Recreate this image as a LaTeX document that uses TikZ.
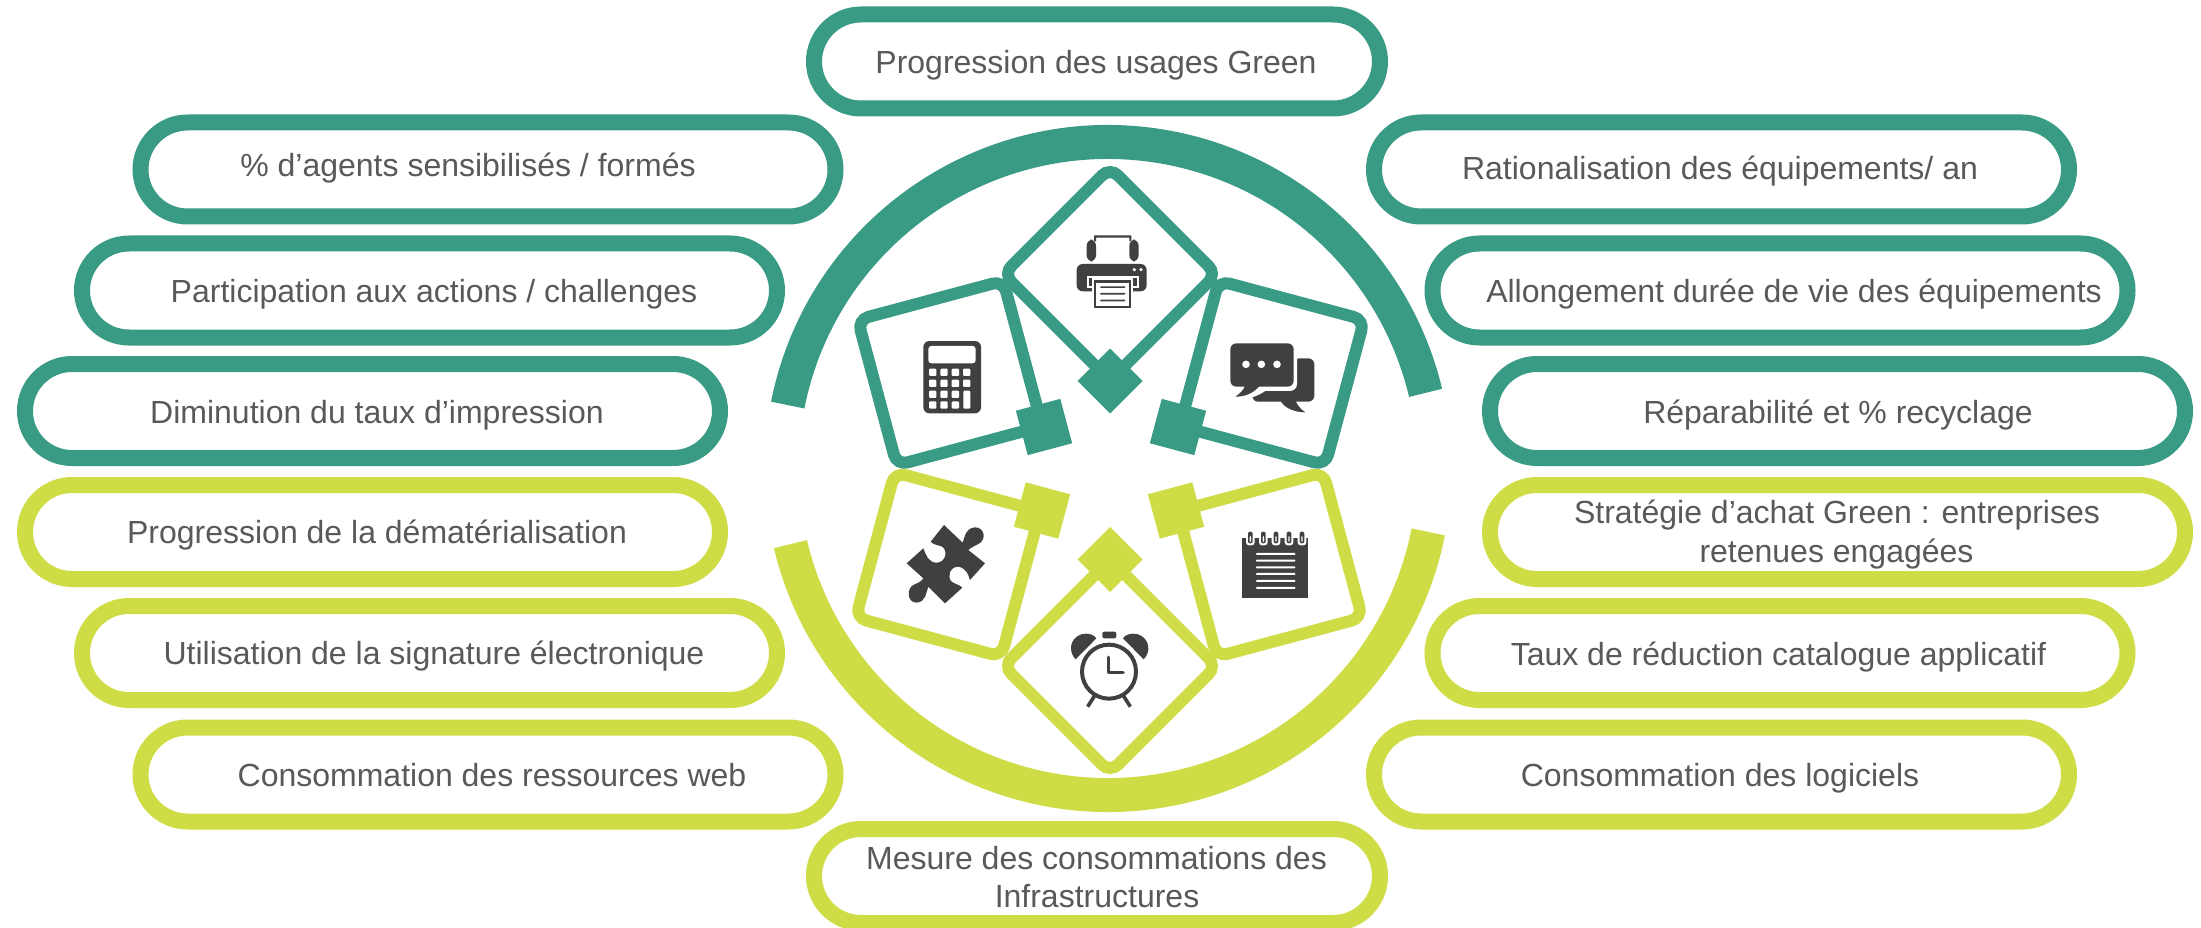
\documentclass[tikz,border=0pt]{standalone}
\usepackage{fontspec}
\setmainfont{Liberation Sans}
\definecolor{gteal}{HTML}{3A9B84}
\definecolor{glime}{HTML}{CEDD45}
\definecolor{icondark}{HTML}{404040}
\definecolor{labelgray}{HTML}{595959}
\tikzset{
  pillbox/.style={draw=#1,line width=16pt,rounded corners=47pt,minimum height=94pt,inner sep=0pt,fill=white},
  pilltext/.style={anchor=base,text=labelgray,font=\fontsize{32pt}{36pt}\selectfont,inner sep=0pt},
  bigarc/.style={draw=#1,line width=34pt},
  cellframe/.style={draw=#1,line width=12pt,rounded corners=11pt},
  celltip/.style={fill=#1},
  icn/.style={fill=icondark,draw=none},
  icw/.style={fill=white,draw=none}
}
\newcommand{\pill}[8]{%
  \node[pillbox=#4,minimum width=#3pt] (#1) at (#2) {};
  \node[pilltext] (#1t) at (#6,#7) {#8};
}
\newcommand{\cell}[7]{%
  \draw[cellframe=#3,shift={(#1,#2)},rotate=#4] (0,-106.5) -- (106.5,0) -- (0,106.5) -- (-106.5,0) -- cycle;
  \fill[celltip=#3,shift={(#5,#6)},rotate=#4] (0,-32.5) -- (32.5,0) -- (0,32.5) -- (-32.5,0) -- cycle;
}
\begin{document}
\begin{tikzpicture}[x=1pt,y=-1pt]
\useasboundingbox (0,0) rectangle (2201,928);
\fill[white] (0,0) rectangle (2201,928);
\coordinate (ctr) at (1108,468.5);
% arcs
\draw[bigarc=gteal] ([shift={(168.8:326.5pt)}]ctr) arc[start angle=168.8,end angle=13.4,radius=326.5pt];
\draw[bigarc=glime] ([shift={(193.4:326.5pt)}]ctr) arc[start angle=193.4,end angle=348.8,radius=326.5pt];
% cells
\cell{950}{373}{gteal}{60}{1044}{427}{}
\cell{1272}{373}{gteal}{-60}{1178}{427}{}
\cell{1110}{274}{gteal}{0}{1110}{381}{}
\cell{948}{564.5}{glime}{-60}{1042}{510.5}{}
\cell{1270}{564.5}{glime}{60}{1176}{510.5}{}
\cell{1110}{666}{glime}{0}{1110}{559.5}{}
% pills
\pill{top}{1097,61.5}{566}{gteal}{}{1096}{74}{Progression des usages Green}
\pill{la}{488,169.5}{695}{gteal}{}{468}{177}{\% d’agents sensibilisés / formés}
\pill{lb}{429.5,290.5}{695}{gteal}{}{434}{302}{Participation aux actions / challenges}
\pill{lc}{372.5,411}{695}{gteal}{}{377}{423}{Diminution du taux d’impression}
\pill{ld}{372.5,532}{695}{glime}{}{377}{543}{Progression de la dématérialisation}
\pill{le}{429.5,653}{695}{glime}{}{434}{664}{Utilisation de la signature électronique}
\pill{lf}{488,774.5}{695}{glime}{}{492}{786}{Consommation des ressources web}
\pill{ra}{1721.5,169.5}{695}{gteal}{}{1720}{180}{Rationalisation des équipements/ an}
\pill{rb}{1780,290.5}{695}{gteal}{}{1794}{302}{Allongement durée de vie des équipements}
\pill{rc}{1837.5,411}{695}{gteal}{}{1838}{423}{Réparabilité et \% recyclage}
\pill{rd}{1837.5,532}{695}{glime}{}{1837}{523}{Stratégie d’achat Green : entreprises}
\node[pilltext] (rdb) at (1836.5,562) {retenues engagées};
\pill{re}{1780,653}{695}{glime}{}{1778.5}{665}{Taux de réduction catalogue applicatif}
\pill{rf}{1721.5,774.5}{695}{glime}{}{1720}{786}{Consommation des logiciels}
\pill{bot}{1097,876}{566}{glime}{}{1096.5}{869}{Mesure des consommations des}
\node[pilltext] (botb) at (1097,907) {Infrastructures};
% printer
\begin{scope}[shift={(1066,228)},x=0.3333pt,y=-0.3333pt]
  \fill[icn,rounded corners=6pt] (62,100) -- (62,35) -- (90,35) -- (90,100) -- cycle;
  \fill[icn,rounded corners=6pt] (190,100) -- (190,35) -- (218,35) -- (218,100) -- cycle;
  \fill[icn] (84,22) rectangle (196,29) (84,22) rectangle (90,40) (190,22) rectangle (196,40);
  \fill[icn,rounded corners=6pt] (32,108) rectangle (242,190);
  \fill[icw] (205,125) circle[radius=1.8pt] (225,125) circle[radius=1.8pt];
  \fill[icw] (62,145) rectangle (220,180);
  \fill[icn] (68,151) rectangle (214,174);
  \fill[icw] (78,150) rectangle (201,246);
  \fill[icn] (83,155) rectangle (195,241);
  \fill[icw] (90,165) rectangle (188,233);
  \fill[icn] (103,175) rectangle (177,180) (103,195) rectangle (177,200) (103,215) rectangle (177,220);
\end{scope}
% calculator
\begin{scope}[shift={(905,335)},x=0.3333pt,y=-0.3333pt]
  \fill[icn,rounded corners=6pt] (55,18) rectangle (228,235);
  \fill[icw,rounded corners=3pt] (70,33) rectangle (212,85);
  \foreach \cx in {83,117,151,185}{\foreach \cy in {112,145}{\fill[icw,rounded corners=1pt] (\cx-11,\cy-11) rectangle (\cx+11,\cy+11);}}
  \foreach \cx in {83,117,151}{\foreach \cy in {178,210}{\fill[icw,rounded corners=1pt] (\cx-11,\cy-11) rectangle (\cx+11,\cy+11);}}
  \fill[icw,rounded corners=1pt] (175,167) rectangle (196,221);
\end{scope}
% chat
\begin{scope}[shift={(1227,335)},x=0.3333pt,y=-0.3333pt]
  \fill[icn,rounded corners=6pt] (80,120) -- (205,70) -- (262,70) -- (262,200) -- (75,200) -- cycle;
  \fill[icn] (160,195) .. controls (170,220) and (205,232) .. (235,232) .. controls (220,222) and (210,210) .. (205,195) -- cycle;
  \fill[icw,rounded corners=7pt] (0,15) rectangle (210,168);
  \fill[icw] (60,155) -- (5,195) .. controls (50,195) and (90,190) .. (125,160) -- cycle;
  \fill[icn,rounded corners=6pt] (10,25) rectangle (200,155);
  \fill[icn] (55,150) .. controls (50,165) and (40,175) .. (25,185) .. controls (55,185) and (80,175) .. (100,150) -- cycle;
  \fill[icw] (57,88) circle[radius=3.8pt] (103,88) circle[radius=3.8pt] (150,88) circle[radius=3.8pt];
\end{scope}
% puzzle
\begin{scope}[shift={(900,520)},x=0.3333pt,y=-0.3333pt]
  \fill[icn] (132,15) -- (188,68) .. controls (195,50) and (195,25) .. (225,22) .. controls (255,22) and (260,60) .. (235,72) .. controls (222,78) and (210,85) .. (205,90) -- (255,130) -- (210,180) .. controls (205,165) and (200,145) .. (175,140) .. controls (150,140) and (140,170) .. (155,185) .. controls (165,192) and (180,195) .. (187,203) -- (135,250) -- (85,200) .. controls (78,215) and (80,245) .. (50,248) .. controls (20,248) and (20,205) .. (40,195) .. controls (50,190) and (65,185) .. (70,175) -- (20,130) -- (70,85) .. controls (78,105) and (85,128) .. (110,128) .. controls (140,128) and (145,85) .. (122,78) .. controls (110,75) and (97,72) .. (92,65) -- cycle;
\end{scope}
% notepad
\begin{scope}[shift={(1232,520)},x=0.3333pt,y=-0.3333pt]
  \fill[icn] (30,53) rectangle (227,233);
  \foreach \cx in {55,94,132,171,210}{
    \fill[icw,rounded corners=3pt] (\cx-13,45) rectangle (\cx+13,76);
    \fill[icn,rounded corners=2pt] (\cx-7,35) rectangle (\cx+7,70);
    \fill[icw,rounded corners=1pt] (\cx-2,48) rectangle (\cx+2,66);
  }
  \foreach \cy in {102,122,142,162,183,204}{\fill[icw,rounded corners=0.8pt] (72,\cy-3) rectangle (190,\cy+3);}
\end{scope}
% clock
\begin{scope}[shift={(1063,625)},x=0.3333pt,y=-0.3333pt]
  \draw[icondark,line width=4pt] (138,140) circle[radius=27pt];
  \fill[icn] (38,103) .. controls (15,80) and (20,40) .. (55,28) .. controls (75,22) and (95,30) .. (100,40) -- cycle;
  \fill[icn] (242,103) .. controls (265,80) and (260,40) .. (225,28) .. controls (205,22) and (185,30) .. (180,40) -- cycle;
  \fill[icn,rounded corners=2pt] (118,20) rectangle (160,40);
  \draw[icondark,line width=3.6pt,line cap=round,line join=round] (136,97) -- (136,143) -- (180,143);
  \draw[icondark,line width=3.6pt] (95,212) -- (74,245) (181,212) -- (202,245);
\end{scope}
\end{tikzpicture}
\end{document}
